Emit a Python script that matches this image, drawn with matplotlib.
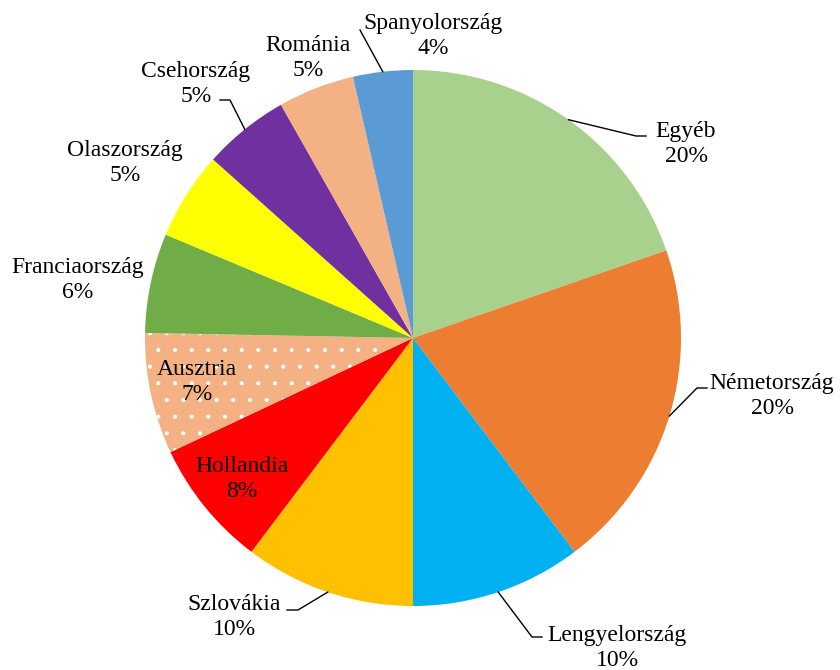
import matplotlib
matplotlib.use("Agg")
import matplotlib.pyplot as plt
import numpy as np

# Data
categories = ["Egyéb", "Németország", "Lengyelország", "Szlovákia", "Hollandia",
              "Ausztria", "Franciaország", "Olaszország", "Csehország", "Románia",
              "Spanyolország"]
values = [19.7, 20.0, 10.3, 10.3, 7.7, 7.3, 6.0, 5.3, 5.2, 4.6, 3.6]
colors = ["#A9D18E", "#ED7D31", "#00B0F0", "#FFC000", "#FF0000", "#F4B183",
          "#70AD47", "#FFFF00", "#7030A0", "#F4B183", "#5B9BD5"]

# Layout (pixel positions in the 840x670 canvas)
W, H = 840, 670
CX, CY, R = 413, 338, 268
label_pos = [(686, 144), (772, 396), (617, 648), (234, 617), (242, 479),
             (197, 382), (78, 280), (125, 163), (196, 84), (308, 58), (433, 36)]
# leader line: (elbow, end) in pixels or None
leaders = [((636, 136), (646, 136)), ((697, 388), (707, 388)),
           ((532, 637), (542, 637)), ((298, 610), (287, 610)),
           None, None, None, None,
           ((230, 100), (220, 100)), None, ((360, 30), (360, 30))]

def px(p):
    return ((p[0] - CX) / R, (CY - p[1]) / R)

plt.rcParams['font.family'] = ['Liberation Serif', 'DejaVu Serif']
plt.rcParams['hatch.color'] = 'white'
plt.rcParams['hatch.linewidth'] = 0.5

fig = plt.figure(figsize=(W / 100, H / 100), dpi=100)
ax = fig.add_axes([0, 0, 1, 1])
wedges, _ = ax.pie(values, colors=colors, startangle=90, counterclock=False,
                   radius=1, wedgeprops=dict(linewidth=0, edgecolor='none'))
# dotted pattern for Ausztria
aus = wedges[categories.index("Ausztria")]
aus.set_hatch('.')
aus.set_edgecolor('white')
aus.set_linewidth(0)

ax.set_xlim(-CX / R, (W - CX) / R)
ax.set_ylim(-(H - CY) / R, CY / R)
ax.set_aspect('equal')
ax.axis('off')

total = sum(values)
for i, (cat, v) in enumerate(zip(categories, values)):
    pct = v / total * 100
    x, y = px(label_pos[i])
    ax.text(x, y, f"{cat}\n{pct:.0f}%", ha='center', va='center', fontsize=17,
            color='black', linespacing=1.25)
    if leaders[i] is not None:
        w = wedges[i]
        mid = np.deg2rad((w.theta1 + w.theta2) / 2)
        sx, sy = np.cos(mid), np.sin(mid)
        e1 = px(leaders[i][0])
        e2 = px(leaders[i][1])
        ax.plot([sx, e1[0], e2[0]], [sy, e1[1], e2[1]], color='black', lw=1)

fig.savefig("out.png", dpi=100)
